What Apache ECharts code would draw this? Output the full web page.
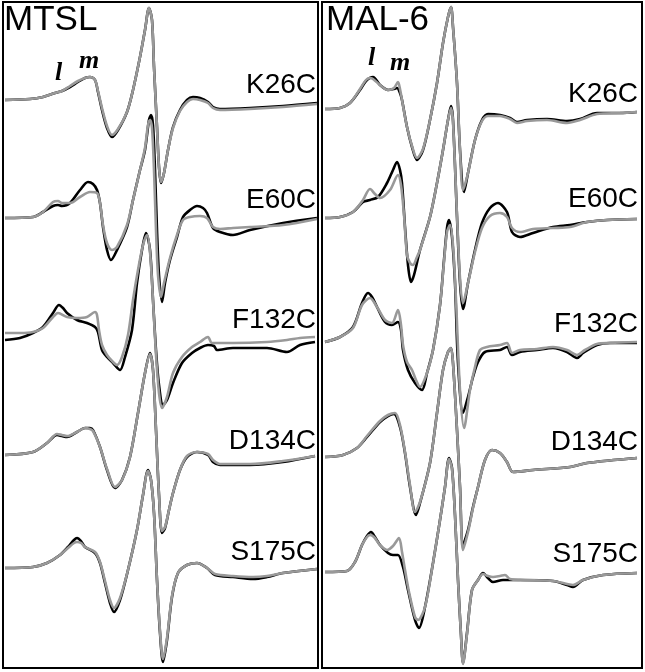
<!DOCTYPE html>
<html>
<head>
<meta charset="utf-8">
<script src="https://cdn.jsdelivr.net/npm/echarts@6/dist/echarts.min.js"></script>
<style>
  html, body { margin: 0; padding: 0; background: #fff; }
  #main { width: 645px; height: 672px; }
</style>
</head>
<body>
<div id="main"></div>
<script>
// labels
var panelNames = ["MTSL", "MAL-6"];
var mutants = ["K26C", "E60C", "F132C", "D134C", "S175C"];

// stacking offset of each spectrum (signal units above the panel floor)
var offsetMTSL = [568, 450, 332, 213, 100];
var offsetMAL6 = [559, 450, 326, 211, 96];

// spectra: [field, signal], black = one sample, gray = other sample
// ---- MTSL ----
var mtslK26C_black = [[2,0],[27,1],[40,3],[52,7],[59,9],[67,13],[75,18],[82,22],[87,23],[92,20],[95,8],[99,-10],[104,-28],[109,-37],[115,-30],[124,-12],[130,10],[137,43],[142,70],[146,92],[149,80],[151,33],[154,-27],[156,-67],[158,-83],[161,-73],[165,-50],[170,-27],[177,-10],[184,0],[190,3],[197,2],[205,-2],[210,-7],[217,-9],[247,-8],[280,-6],[314,-3]];
var mtslK26C_gray = [[2,0],[27,1],[40,3],[52,7],[59,9],[67,14],[75,19],[82,22],[87,23],[92,20],[95,9],[99,-8],[104,-26],[109,-35],[115,-29],[124,-12],[130,10],[137,43],[142,70],[146,92],[149,80],[151,33],[154,-27],[156,-67],[158,-82],[161,-73],[165,-50],[170,-28],[177,-11],[184,-2],[190,1],[197,0],[205,-3],[210,-8],[217,-10],[247,-9],[280,-7],[314,-4]];

var mtslE60C_black = [[2,0],[30,1],[40,6],[50,12],[55,13],[59,12],[67,15],[77,28],[85,36],[90,34],[94,28],[97,15],[100,-9],[104,-32],[108,-42],[114,-32],[124,-9],[130,18],[137,48],[142,68],[146,98],[148,103],[150,93],[152,48],[154,-12],[156,-57],[159,-84],[162,-65],[167,-42],[174,-19],[180,1],[187,8],[194,12],[200,10],[204,5],[210,-10],[217,-14],[230,-17],[247,-12],[280,-5],[314,0]];
var mtslE60C_gray = [[2,0],[30,1],[40,6],[50,16],[55,17],[59,15],[67,15],[77,21],[87,26],[94,25],[97,15],[100,-7],[104,-25],[109,-32],[114,-29],[124,-7],[130,18],[137,48],[142,70],[145,93],[147,98],[149,90],[151,48],[153,-12],[155,-57],[158,-79],[161,-65],[167,-40],[174,-17],[180,-2],[187,1],[197,2],[204,0],[210,-9],[217,-11],[230,-10],[247,-9],[280,-7],[314,-1]];

var mtslF132C_black = [[2,-4],[17,-2],[30,3],[40,9],[50,23],[56,31],[60,28],[64,23],[74,16],[84,13],[92,9],[95,4],[99,-14],[104,-21],[110,-27],[117,-34],[122,-21],[129,6],[134,53],[139,86],[143,103],[147,86],[150,36],[153,-14],[156,-49],[160,-69],[164,-64],[170,-47],[179,-27],[189,-17],[197,-12],[205,-9],[211,-10],[214,-14],[230,-12],[264,-12],[284,-16],[297,-9],[312,-6]];
var mtslF132C_gray = [[2,3],[17,3],[30,4],[40,8],[50,19],[55,23],[64,19],[74,18],[84,19],[92,24],[94,21],[96,6],[99,-9],[104,-19],[110,-26],[114,-29],[119,-21],[125,1],[130,36],[135,66],[140,91],[144,101],[147,84],[150,36],[153,-19],[156,-57],[159,-72],[164,-61],[170,-37],[179,-21],[189,-11],[197,-6],[205,-1],[209,-7],[230,-7],[264,-6],[284,-4],[297,-2],[312,-1]];

var mtslD134C_black = [[2,0],[30,3],[44,12],[54,20],[59,19],[64,18],[74,23],[82,27],[87,27],[90,25],[97,8],[104,-15],[112,-33],[119,-25],[127,-2],[135,42],[142,82],[147,102],[150,85],[153,25],[156,-40],[159,-78],[162,-73],[166,-55],[170,-38],[177,-15],[184,-2],[194,3],[205,0],[210,-7],[217,-10],[247,-10],[280,-7],[312,-1]];
var mtslD134C_gray = [[2,0],[30,3],[44,12],[54,21],[59,20],[64,19],[74,23],[82,27],[87,26],[90,24],[97,8],[104,-14],[112,-32],[119,-25],[127,-2],[135,42],[142,82],[147,101],[150,85],[153,25],[156,-40],[159,-76],[162,-72],[166,-55],[170,-38],[177,-15],[184,-1],[194,3],[205,1],[210,-5],[217,-9],[247,-9],[280,-6],[312,-1]];

var mtslS175C_black = [[2,0],[30,1],[44,5],[57,13],[65,21],[71,28],[74,30],[78,27],[82,21],[92,15],[97,5],[102,-15],[107,-35],[111,-44],[117,-32],[125,-2],[134,38],[140,73],[145,98],[148,88],[151,55],[154,-12],[157,-65],[160,-94],[164,-72],[169,-29],[175,-5],[184,3],[194,5],[204,0],[212,-7],[230,-9],[250,-11],[264,-9],[280,-5],[314,-1]];
var mtslS175C_gray = [[2,0],[30,1],[44,5],[57,13],[65,20],[71,25],[74,26],[78,25],[82,21],[92,16],[97,6],[102,-13],[107,-32],[111,-40],[117,-30],[125,-2],[134,38],[140,73],[145,97],[148,88],[151,55],[154,-12],[157,-63],[160,-91],[164,-70],[169,-28],[175,-5],[184,3],[194,5],[204,0],[212,-6],[230,-8],[250,-9],[264,-8],[280,-5],[314,-1]];

// ---- MAL-6 ----
var mal6K26C_black = [[3,0],[18,1],[28,6],[38,19],[44,28],[51,32],[58,24],[66,19],[72,20],[75,21],[78,16],[80,9],[85,-18],[90,-38],[95,-51],[101,-41],[108,-11],[115,26],[121,66],[126,92],[129,102],[131,82],[135,26],[138,-41],[142,-83],[146,-64],[153,-31],[160,-11],[166,-5],[178,-6],[188,-9],[195,-13],[205,-11],[225,-10],[245,-12],[258,-10],[275,-4],[298,-4],[315,-3]];
var mal6K26C_gray = [[3,0],[18,1],[28,6],[38,20],[44,29],[48,31],[51,30],[58,24],[66,19],[72,21],[76,27],[78,20],[80,9],[85,-18],[90,-37],[95,-49],[101,-40],[108,-11],[115,26],[121,66],[126,92],[129,102],[131,82],[135,26],[138,-41],[141,-81],[146,-64],[153,-31],[160,-12],[166,-7],[178,-7],[188,-10],[195,-14],[205,-12],[225,-11],[245,-14],[258,-11],[275,-5],[298,-4],[315,-3]];

var mal6E60C_black = [[3,0],[18,1],[31,6],[41,16],[48,18],[56,21],[65,35],[71,48],[75,56],[78,48],[80,35],[83,-9],[86,-47],[89,-64],[92,-57],[98,-32],[108,1],[115,35],[121,68],[126,98],[129,112],[131,98],[135,1],[138,-65],[141,-91],[146,-65],[153,-32],[160,-5],[168,10],[176,15],[185,6],[190,-14],[198,-19],[211,-15],[231,-9],[248,-7],[265,-4],[285,-2],[315,-1]];
var mal6E60C_gray = [[3,0],[18,1],[31,6],[41,18],[48,29],[53,24],[58,20],[68,28],[76,43],[79,33],[82,3],[85,-37],[88,-45],[91,-47],[95,-39],[98,-32],[108,1],[115,35],[121,68],[126,98],[129,110],[131,96],[135,3],[138,-60],[141,-85],[146,-65],[153,-34],[160,-10],[168,2],[178,5],[185,1],[190,-10],[198,-14],[211,-11],[231,-10],[248,-9],[265,-4],[285,-2],[315,-1]];

var mal6F132C_black = [[3,0],[18,5],[31,15],[40,39],[46,49],[50,45],[55,35],[63,20],[70,17],[76,20],[79,12],[81,-8],[86,-28],[93,-41],[100,-48],[105,-31],[111,-8],[118,37],[122,82],[125,114],[127,122],[130,105],[133,59],[136,-21],[141,-71],[146,-55],[151,-35],[156,-20],[163,-10],[178,-8],[185,-5],[190,-13],[198,-10],[215,-8],[231,-6],[245,-10],[255,-16],[261,-11],[275,-3],[288,-1],[315,-1]];
var mal6F132C_gray = [[3,0],[18,5],[31,14],[40,37],[48,44],[55,35],[63,22],[70,19],[76,32],[79,17],[81,-3],[85,-20],[90,-28],[94,-38],[98,-45],[105,-31],[111,-8],[118,37],[122,80],[125,110],[128,117],[131,97],[134,42],[138,-48],[142,-86],[148,-48],[153,-25],[158,-8],[165,-5],[178,-3],[185,-1],[190,-11],[198,-8],[215,-7],[231,-5],[245,-8],[255,-13],[263,-8],[275,-2],[288,-1],[315,0]];

var mal6D134C_black = [[3,0],[21,2],[35,9],[45,20],[58,35],[66,41],[72,43],[78,30],[83,4],[88,-30],[94,-58],[98,-46],[108,-6],[115,44],[121,87],[126,105],[129,109],[131,94],[135,27],[138,-30],[141,-88],[146,-73],[151,-50],[156,-30],[163,-3],[170,7],[178,4],[185,-5],[191,-15],[211,-13],[248,-10],[265,-6],[315,-1]];
var mal6D134C_gray = [[3,0],[21,2],[35,9],[45,21],[58,36],[66,42],[73,44],[78,32],[83,5],[88,-28],[93,-55],[98,-45],[108,-6],[115,44],[121,87],[126,105],[129,109],[131,94],[135,27],[138,-30],[141,-93],[146,-75],[151,-51],[156,-30],[163,-3],[170,7],[178,4],[185,-5],[191,-15],[211,-13],[248,-10],[265,-6],[315,-1]];

var mal6S175C_black = [[3,0],[25,1],[33,10],[40,27],[45,36],[49,40],[53,35],[58,27],[66,19],[71,17],[76,17],[81,5],[86,-18],[93,-48],[97,-56],[103,-35],[111,9],[118,52],[123,85],[127,114],[130,104],[133,57],[136,-8],[139,-63],[141,-91],[145,-61],[150,-18],[156,-8],[161,-1],[166,-6],[171,-10],[181,-8],[188,-8],[198,-8],[231,-9],[245,-13],[251,-15],[261,-8],[281,-3],[315,-1]];
var mal6S175C_gray = [[3,0],[25,1],[33,10],[40,27],[45,35],[48,37],[52,35],[58,27],[65,22],[71,26],[77,34],[80,20],[83,2],[87,-20],[93,-45],[96,-48],[103,-35],[111,9],[118,52],[123,85],[127,113],[130,103],[133,57],[136,-8],[139,-63],[141,-92],[145,-62],[150,-18],[156,-8],[161,-2],[166,-4],[171,-5],[178,-4],[183,-3],[188,-7],[198,-8],[231,-9],[245,-12],[251,-13],[261,-8],[281,-3],[315,-1]];

var mtslSpectra = [
  [mtslK26C_black, mtslK26C_gray],
  [mtslE60C_black, mtslE60C_gray],
  [mtslF132C_black, mtslF132C_gray],
  [mtslD134C_black, mtslD134C_gray],
  [mtslS175C_black, mtslS175C_gray]
];
var mal6Spectra = [
  [mal6K26C_black, mal6K26C_gray],
  [mal6E60C_black, mal6E60C_gray],
  [mal6F132C_black, mal6F132C_gray],
  [mal6D134C_black, mal6D134C_gray],
  [mal6S175C_black, mal6S175C_gray]
];

var chart = echarts.init(document.getElementById("main"));

function shift(arr, off) {
  return arr.map(function (p) { return [p[0], p[1] + off]; });
}

var series = [];
function addPanel(spectra, offsets, gi) {
  spectra.forEach(function (pair, i) {
    series.push({
      type: "line", xAxisIndex: gi, yAxisIndex: gi,
      data: shift(pair[0], offsets[i]),
      smooth: 0.3, symbol: "none", silent: true,
      lineStyle: { color: "#000", width: 2.6 }, z: 2
    });
    series.push({
      type: "line", xAxisIndex: gi, yAxisIndex: gi,
      data: shift(pair[1], offsets[i]),
      smooth: 0.3, symbol: "none", silent: true,
      lineStyle: { color: "#999", width: 2.6 }, z: 3
    });
  });
}
addPanel(mtslSpectra, offsetMTSL, 0);
addPanel(mal6Spectra, offsetMAL6, 1);

var hidden = { show: false };
function axisX(max, gi) {
  return { type: "value", gridIndex: gi, min: 0, max: max,
    axisLine: hidden, axisTick: hidden, axisLabel: hidden, splitLine: hidden };
}
function axisY(gi) {
  return { type: "value", gridIndex: gi, min: 0, max: 666,
    axisLine: hidden, axisTick: hidden, axisLabel: hidden, splitLine: hidden };
}

// text labels
var labelFont = "28px 'Liberation Sans', Arial, sans-serif";
var labelBaseL = [99, 214, 334, 455, 566];
var labelBaseR = [108, 213, 338, 456, 568];
var graphics = [];
mutants.forEach(function (m, i) {
  graphics.push({ type: "text", z: 10, style: { text: m, x: 316, y: labelBaseL[i], font: labelFont,
    fill: "#000", textAlign: "right", textVerticalAlign: "bottom" } });
  graphics.push({ type: "text", z: 10, style: { text: m, x: 638, y: labelBaseR[i], font: labelFont,
    fill: "#000", textAlign: "right", textVerticalAlign: "bottom" } });
});
var titleFont = "35px 'Liberation Sans', Arial, sans-serif";
graphics.push({ type: "text", z: 10, style: { text: panelNames[0], x: 4, y: 38, font: titleFont,
  fill: "#000", textAlign: "left", textVerticalAlign: "bottom" } });
graphics.push({ type: "text", z: 10, style: { text: panelNames[1], x: 326, y: 38, font: titleFont,
  fill: "#000", textAlign: "left", textVerticalAlign: "bottom" } });
var serifFont = "italic bold 26px 'Liberation Serif', 'Times New Roman', serif";
graphics.push({ type: "text", z: 10, style: { text: "l", x: 55, y: 86, font: serifFont, fill: "#000", textVerticalAlign: "bottom" } });
graphics.push({ type: "text", z: 10, style: { text: "m", x: 79, y: 74, font: serifFont, fill: "#000", textVerticalAlign: "bottom" } });
graphics.push({ type: "text", z: 10, style: { text: "l", x: 368, y: 71, font: serifFont, fill: "#000", textVerticalAlign: "bottom" } });
graphics.push({ type: "text", z: 10, style: { text: "m", x: 390, y: 76, font: serifFont, fill: "#000", textVerticalAlign: "bottom" } });

chart.setOption({
  backgroundColor: "#fff",
  animation: false,
  grid: [
    { left: 3, top: 2, width: 315, height: 666, show: true, borderColor: "#000", borderWidth: 2, backgroundColor: "#fff" },
    { left: 322, top: 2, width: 320, height: 666, show: true, borderColor: "#000", borderWidth: 2, backgroundColor: "#fff" }
  ],
  xAxis: [axisX(315, 0), axisX(320, 1)],
  yAxis: [axisY(0), axisY(1)],
  graphic: graphics,
  series: series
});
</script>
</body>
</html>
